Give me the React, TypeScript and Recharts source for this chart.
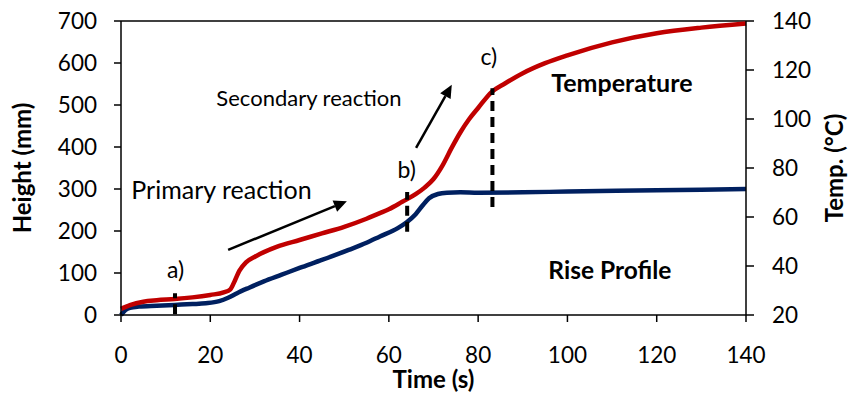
import { LineChart, Line, XAxis, YAxis, ReferenceLine, ReferenceDot } from 'recharts'

// rise profile (height, mm) vs time (s)
const riseTime = [0, 1, 2, 4, 8, 12, 16, 19, 22, 24, 26, 28.7, 32, 36, 40, 45, 51, 55, 58, 62, 64, 66, 67.5, 69, 71, 73, 76, 80, 90, 100, 120, 140]
const riseHeight = [0, 12, 17, 20, 22, 24, 26, 28, 33, 41, 52, 65, 80, 96, 112, 131, 155, 172, 187, 207, 221, 240, 260, 278, 288, 291, 292, 291, 292, 294, 297, 300]

// temperature (°C) vs time (s)
const tempTime = [0, 2, 5, 8, 12, 16, 20, 23, 24.5, 25.5, 26.5, 28, 30, 35, 40, 45, 50, 55, 58, 60, 63, 66, 68, 70, 72, 74, 76, 78, 80, 83, 86, 90, 95, 100, 110, 120, 130, 140]
const tempValue = [22.5, 24, 25.4, 26, 26.5, 27.2, 28.2, 29.2, 30.5, 34, 38, 41.5, 43.8, 47.9, 50.6, 53.3, 56, 59.3, 61.6, 63.2, 66.2, 69.3, 72, 75.5, 81, 88, 94.5, 100, 104.5, 111, 114.5, 118.7, 122.8, 126, 131.3, 135, 137.3, 139]

const timeTicks = [0, 20, 40, 60, 80, 100, 120, 140]
const heightTicks = [0, 100, 200, 300, 400, 500, 600, 700]
const tempTicks = [20, 40, 60, 80, 100, 120, 140]

// dashed markers a), b), c) in (time, height) units
const markTime = [12.1, 64.1, 83.2]
const markFrom = [2, 198, 257]
const markTo = [52, 293, 540]

// arrows in (time, height) units
const arrowFrom = [[24.0, 155], [66.1, 398]]
const arrowTo = [[50.6, 271], [74.1, 548]]

// text notes
const noteText = ['a)', 'b)', 'c)', 'Primary reaction', 'Secondary reaction', 'Temperature', 'Rise Profile']
const noteTime = [12.2, 64, 82.4, 22.5, 42.1, 112.2, 109.5]
const noteHeight = [107, 345, 614, 298, 517, 552, 107]
const noteBold = [false, false, false, false, false, true, true]
const noteSize = [23, 23, 23, 25, 22, 25, 24.5]

const FONT = 'Lato, "Open Sans", sans-serif'

const riseData = riseTime.map((t, i) => ({ t, h: riseHeight[i] }))
const tempData = tempTime.map((t, i) => ({ t, c: tempValue[i] }))

const Arrow = (props: any) => {
  const { x1, y1, x2, y2 } = props
  const ang = Math.atan2(y2 - y1, x2 - x1)
  const len = 13
  const w = 6
  const bx = x2 - len * Math.cos(ang)
  const by = y2 - len * Math.sin(ang)
  const px = -Math.sin(ang) * w
  const py = Math.cos(ang) * w
  return (
    <g>
      <line x1={x1} y1={y1} x2={bx} y2={by} stroke="#000" strokeWidth={2.5} />
      <polygon points={`${x2},${y2} ${bx + px},${by + py} ${bx - px},${by - py}`} fill="#000" />
    </g>
  )
}

export default function App() {
  const tick = { fill: '#000', fontSize: 22.5, fontFamily: FONT }
  const axisLine = { stroke: '#000', strokeWidth: 1.5 }
  const title = { fill: '#000', fontSize: 24, fontWeight: 700, fontFamily: FONT }
  return (
    <div style={{ fontFamily: FONT }}>
      <style>{'body{margin:0}'}</style>
      <LineChart width={851} height={394} margin={{ top: 21, right: 0, bottom: 0, left: 0 }}>
        <XAxis
          type="number"
          dataKey="t"
          domain={[0, 140]}
          ticks={timeTicks}
          height={79}
          tickSize={7}
          tickMargin={25}
          tick={tick}
          axisLine={axisLine}
          tickLine={axisLine}
          allowDuplicatedCategory={false}
          label={{ value: 'Time (s)', position: 'insideBottom', offset: 6, ...title }}
        />
        <YAxis
          yAxisId="left"
          domain={[0, 700]}
          ticks={heightTicks}
          width={121}
          tickSize={7}
          tickMargin={17}
          tick={tick}
          axisLine={axisLine}
          tickLine={axisLine}
          label={{ value: 'Height (mm)', angle: -90, position: 'center', dx: -38, ...title }}
        />
        <YAxis
          yAxisId="right"
          orientation="right"
          domain={[20, 140]}
          ticks={tempTicks}
          width={105}
          tickSize={8}
          tickMargin={18}
          tick={tick}
          axisLine={axisLine}
          tickLine={axisLine}
          label={{ value: 'Temp. (°C)', angle: -90, position: 'center', dx: 36, ...title }}
        />
        <ReferenceLine yAxisId="left" y={700} stroke="#000" strokeWidth={1.5} />
        <Line yAxisId="left" data={riseData} dataKey="h" type="monotone" stroke="#002060" strokeWidth={4.5} dot={false} isAnimationActive={false} />
        <Line yAxisId="right" data={tempData} dataKey="c" type="monotone" stroke="#C00000" strokeWidth={4.5} dot={false} isAnimationActive={false} />
        {markTime.map((t, i) => (
          <ReferenceLine
            key={'m' + i}
            yAxisId="left"
            segment={[{ x: t, y: markFrom[i] }, { x: t, y: markTo[i] }]}
            stroke="#000"
            strokeWidth={4}
            strokeDasharray="10 6"
          />
        ))}
        {arrowFrom.map((p, i) => (
          <ReferenceLine
            key={'a' + i}
            yAxisId="left"
            segment={[{ x: p[0], y: p[1] }, { x: arrowTo[i][0], y: arrowTo[i][1] }]}
            shape={Arrow}
          />
        ))}
        {noteText.map((s, i) => (
          <ReferenceDot
            key={'n' + i}
            yAxisId="left"
            x={noteTime[i]}
            y={noteHeight[i]}
            r={0}
            fill="none"
            stroke="none"
            label={{ value: s, position: 'center', fill: '#000', fontSize: noteSize[i], fontWeight: noteBold[i] ? 700 : 400, fontFamily: FONT }}
          />
        ))}
      </LineChart>
    </div>
  )
}
